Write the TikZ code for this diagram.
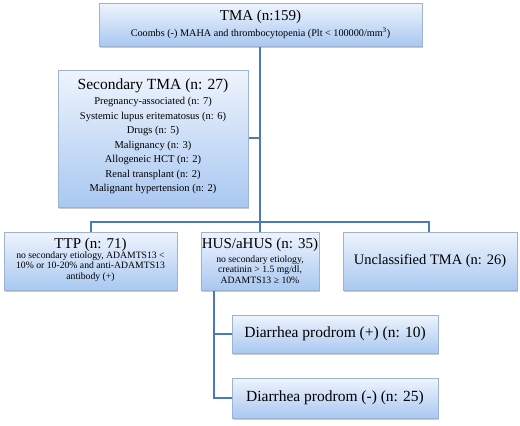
\documentclass[tikz,border=0pt]{standalone}
\usepackage{fontspec}
\setmainfont{Liberation Serif}
\usetikzlibrary{shadows}
\definecolor{topc}{HTML}{EEF4FD}
\definecolor{botc}{HTML}{A9C8F1}
\definecolor{edgec}{HTML}{9DB3CF}
\definecolor{linec}{HTML}{4A7BB8}
\begin{document}
\begin{tikzpicture}[x=1pt,y=-1pt,
  box/.style={draw=edgec, line width=0.6pt, top color=topc, bottom color=botc,
    drop shadow={shadow xshift=1pt, shadow yshift=-1.8pt, opacity=0.35, fill=black!60},
    align=center, inner sep=1pt, anchor=center},
  conn/.style={draw=linec, line width=2.2pt},
]
\useasboundingbox (0,0) rectangle (520,426);
\draw[conn] (260,40) -- (260,240);
\draw[conn] (150,138) -- (260,138);
\draw[conn] (91,232) -- (91,222) -- (429,222) -- (429,232);
\draw[conn] (214,285) -- (214,398) -- (240,398);
\draw[conn] (214,334) -- (240,334);

\node[box, minimum width=323pt, minimum height=43pt, font=\fontsize{10.2}{12}\selectfont] (tma) at (260.5,24.5)
  {{\fontsize{15}{17}\selectfont TMA (n:159)}\\[4pt]
   Coombs (-) MAHA and thrombocytopenia (Plt < 100000/mm\textsuperscript{3})};
\node[box, minimum width=190pt, minimum height=137pt, font=\fontsize{10.5}{14.5}\selectfont] (sec) at (153,138.5)
  {\rule{0pt}{6pt}\\[-14pt]{\fontsize{15.5}{17}\selectfont Secondary TMA (n: 27)}\\[1pt]
   Pregnancy-associated (n: 7)\\
   Systemic lupus eritematosus (n: 6)\\
   Drugs (n: 5)\\
   Malignancy (n: 3)\\
   Allogeneic HCT (n: 2)\\
   Renal transplant (n: 2)\\
   Malignant hypertension (n: 2)};
\node[box, minimum width=173pt, minimum height=58pt, font=\fontsize{9.7}{10.5}\selectfont] (ttp) at (90.5,261)
  {{\fontsize{15}{17}\selectfont TTP (n: 71)}\\[-1pt]
   no secondary etiology, ADAMTS13 <\\
   10\% or 10-20\% and anti-ADAMTS13\\
   antibody (+)\\[-6pt]\mbox{}};
\node[box, minimum width=116pt, minimum height=58pt, font=\fontsize{9.7}{10.5}\selectfont] (hus) at (260,261)
  {{\fontsize{15}{17}\selectfont HUS/aHUS (n: 35)}\\[3pt]
   no secondary etiology,\\
   creatinin > 1.5 mg/dl,\\
   ADAMTS13 ≥ 10\%};
\node[box, minimum width=174pt, minimum height=58pt, font=\fontsize{14.5}{17}\selectfont] (unc) at (430,261)
  {Unclassified TMA (n: 26)};
\node[box, minimum width=206pt, minimum height=38pt, font=\fontsize{15.5}{17}\selectfont] (dp) at (335,334)
  {Diarrhea prodrom (+) (n: 10)};
\node[box, minimum width=206pt, minimum height=40pt, font=\fontsize{15.5}{17}\selectfont] (dm) at (335,398)
  {Diarrhea prodrom (-) (n: 25)};
\end{tikzpicture}
\end{document}
